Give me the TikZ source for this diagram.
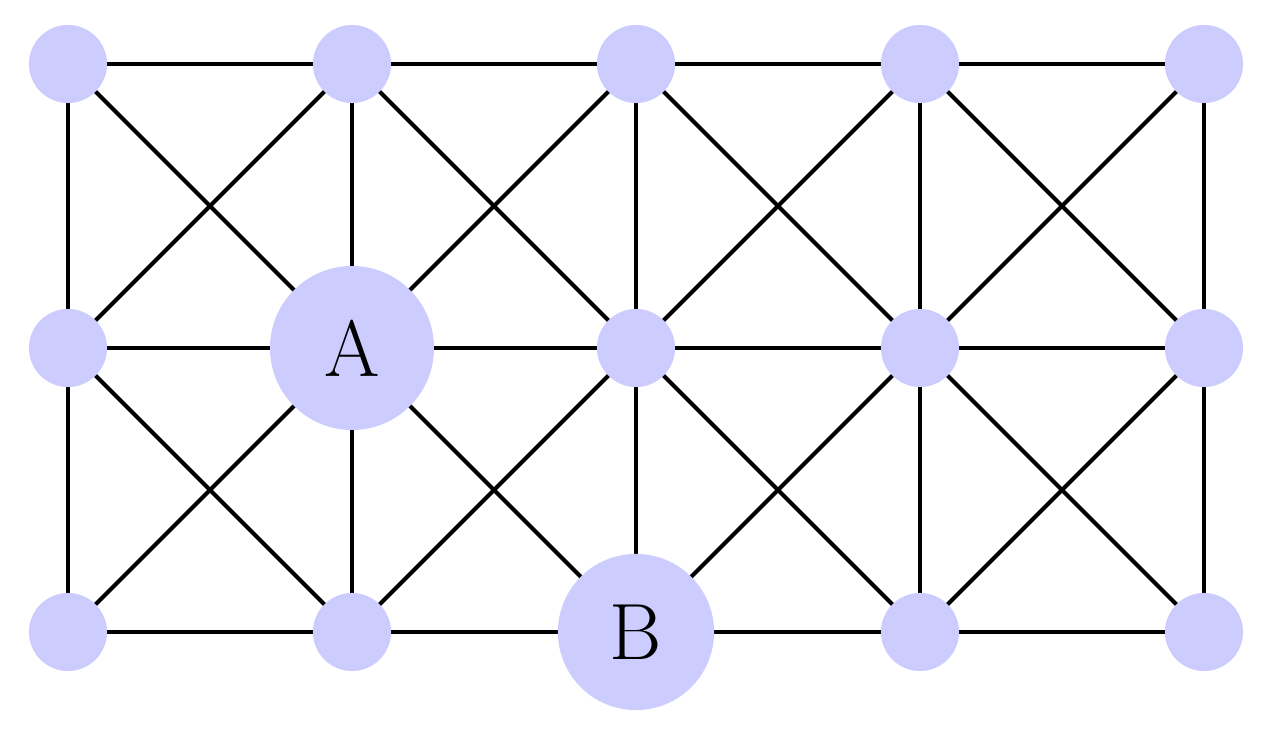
\documentclass[tikz,border=0pt]{standalone}
\begin{document}
\begin{tikzpicture}[x=2cm,y=2cm,
  v/.style={circle,fill=blue!20,inner sep=0pt,minimum size=0.55cm},
  big/.style={circle,fill=blue!20,inner sep=0pt,font=\fontsize{16}{18}\selectfont},
  e/.style={line width=0.8pt}]
\useasboundingbox (-0.2394,-0.366) rectangle (4.2254,2.2254);
\foreach \i in {0,...,4}\foreach \j in {0,1,2}{\coordinate (p\i\j) at (\i,\j);}
\foreach \i in {0,...,4}{\draw[e] (p\i0)--(p\i1)--(p\i2);}
\foreach \j in {0,1,2}{\draw[e] (p0\j)--(p1\j)--(p2\j)--(p3\j)--(p4\j);}
\foreach \i [evaluate=\i as \n using int(\i+1)] in {0,...,3}{
  \draw[e] (p\i0)--(p\n1); \draw[e] (p\i1)--(p\n0);
  \draw[e] (p\i1)--(p\n2); \draw[e] (p\i2)--(p\n1);}
\foreach \i/\j in {0/0,1/0,3/0,4/0,0/1,2/1,3/1,4/1,0/2,1/2,2/2,3/2,4/2}{\node[v] (n\i\j) at (p\i\j) {};}
\node[big,minimum size=1.155cm] (A) at (p11) {A};
\node[big,minimum size=1.10cm] (B) at (p20) {B};
\end{tikzpicture}
\end{document}
